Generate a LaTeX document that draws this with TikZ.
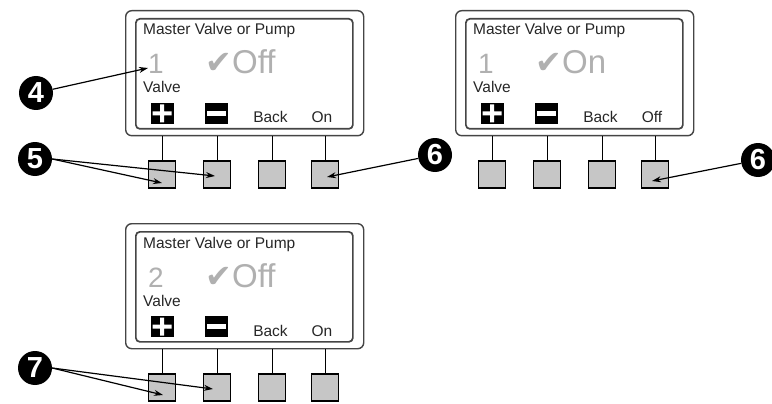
\documentclass[tikz,border=0pt]{standalone}
\usepackage{fontspec}
\setmainfont{Liberation Sans}
\newfontfamily\symfont{DejaVu Sans}
\usetikzlibrary{arrows.meta}
\definecolor{lcdgrey}{HTML}{B0B0B0}
\definecolor{btngrey}{HTML}{C6C6C6}
\definecolor{framec}{HTML}{454545}
\tikzset{
  outerframe/.style={draw=framec, line width=1.4pt, rounded corners=6pt, inner sep=0pt},
  innerframe/.style={draw=framec, line width=1.7pt, rounded corners=4pt, inner sep=0pt},
  lbl/.style={font=\fontsize{15.5}{15.5}\selectfont, inner sep=0pt, anchor=base west, text=black!85},
  bigdigit/.style={font=\fontsize{28}{28}\selectfont, inner sep=0pt, anchor=base west, text=lcdgrey},
  bigword/.style={font=\fontsize{33}{33}\selectfont, inner sep=0pt, anchor=base west, text=lcdgrey},
  checkmk/.style={font=\symfont\fontsize{32}{32}\selectfont, inner sep=0pt, anchor=base west, text=lcdgrey},
  keyicon/.style={fill=black, minimum width=23pt, minimum height=21pt, inner sep=0pt},
  btn/.style={draw=black, fill=btngrey, line width=1.2pt, minimum size=27pt, inner sep=0pt},
  stem/.style={draw=black, line width=1pt},
  callout/.style={circle, fill=black, text=white, minimum size=34pt, inner sep=0pt,
    font=\bfseries\fontsize{29}{29}\selectfont},
  arr/.style={draw=black, line width=1.2pt, -{Stealth[length=9pt,width=6pt]}}
}
\newcommand\lcdpanel[6]{%
\begin{scope}[shift={(#2,#3)}]
  \node[outerframe, anchor=north west, minimum width=238pt, minimum height=125pt] (#1-frame) at (0,0) {};
  \node[innerframe, anchor=north west, minimum width=217pt, minimum height=110pt] (#1-screen) at (10,8) {};
  \node[lbl] (#1-title) at (18,25) {Master Valve or Pump};
  \node[bigdigit] (#1-num) at (23,64) {#4};
  \node[checkmk] (#1-check) at (80,64) {✔};
  \node[bigword] (#1-state) at (107,64) {#5};
  \node[lbl] (#1-valve) at (18,83) {Valve};
  \node[keyicon] (#1-plus) at (37,103.5) {};
  \fill[white] (35,94.5) rectangle (39,112.5) (27.5,101.5) rectangle (46.5,105.5);
  \node[keyicon] (#1-minus) at (91.5,103.5) {};
  \fill[white] (82,101) rectangle (101,106);
  \node[lbl, anchor=base] (#1-back) at (145.5,113) {Back};
  \node[lbl, anchor=base] (#1-right) at (197,113) {#6};
  \foreach \i/\x in {1/37,2/92,3/147,4/200}{
    \node[btn] (#1-b\i) at (\x,164.5) {};
    \draw[stem] (#1-b\i |- #1-frame.south) -- (#1-b\i.north);
  }
\end{scope}}
\begin{document}
\begin{tikzpicture}[x=1pt,y=-1pt]
  \useasboundingbox (0,0) rectangle (772,404);
  \lcdpanel{pa}{125}{10}{1}{Off}{On}
  \lcdpanel{pb}{455}{10}{1}{On}{Off}
  \lcdpanel{pc}{125}{223}{2}{Off}{On}

  \node[callout] (c4) at (36,93) {4};
  \node[callout] (c5) at (35,159) {5};
  \node[callout] (c6a) at (435,155) {6};
  \node[callout] (c6b) at (758,160) {6};
  \node[callout] (c7) at (35,368) {7};

  \coordinate (t4) at (148,68);
  \coordinate (t5a) at (162,183);
  \coordinate (t5b) at (215,176);
  \coordinate (t6a) at (327,177);
  \coordinate (t6b) at (652,181);
  \coordinate (t7a) at (163,395);
  \coordinate (t7b) at (213,389);

  \draw[arr] (c4) -- (t4);
  \draw[arr] (c5.east) -- (t5a);
  \draw[arr] (c5.east) -- (t5b);
  \draw[arr] (c6a) -- (t6a);
  \draw[arr] (c6b) -- (t6b);
  \draw[arr] (c7.east) -- (t7a);
  \draw[arr] (c7.east) -- (t7b);
\end{tikzpicture}
\end{document}
